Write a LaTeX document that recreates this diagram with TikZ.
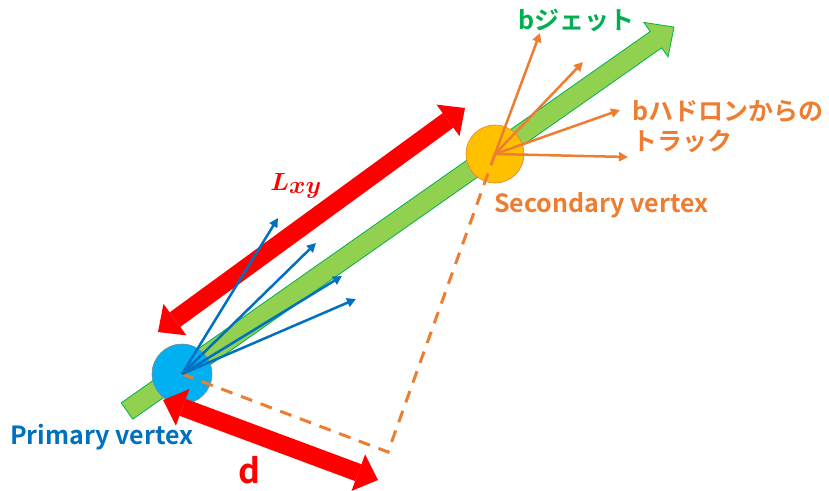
\documentclass[tikz,border=0pt]{standalone}
\usepackage{fontspec}
\newfontfamily\jpfont{Noto Sans CJK JP}[BoldFont={Noto Sans CJK JP Bold}]
\usetikzlibrary{arrows.meta,calc}

\definecolor{jetgreen}{HTML}{00B050}
\definecolor{jetfill}{HTML}{92D050}
\definecolor{pvblue}{HTML}{0070C0}
\definecolor{pvfill}{HTML}{00B0F0}
\definecolor{svfill}{HTML}{FFC000}
\definecolor{trkorange}{HTML}{ED7D31}

\begin{document}
\begin{tikzpicture}[
  x=1pt,
  y=-1pt,
  vtx/.style={circle, draw, line width=0.6pt, inner sep=0pt},
  btrk/.style={pvblue, line width=2.5pt, -{Triangle[width=9pt,length=9pt]}},
  otrk/.style={trkorange, line width=2.5pt, -{Triangle[width=9pt,length=9pt]}},
  fat/.style={red, line width=18pt, {Triangle[width=39pt,length=21pt,line width=0pt]}-{Triangle[width=39pt,length=21pt,line width=0pt]}},
  dline/.style={trkorange, line width=3pt, dash pattern=on 12pt off 9pt},
  lbl/.style={font=\jpfont\bfseries\fontsize{25}{30}\selectfont, inner sep=0pt, align=left}
]
  \useasboundingbox (0,0) rectangle (829,490);

  % jet axis
  \coordinate (jt) at (127,411);
  \coordinate (jh) at (674,27);
  \coordinate (jb) at ($(jh)!22pt!(jt)$);
  \filldraw[fill=jetfill, draw=jetgreen, line width=0.8pt]
    ($(jt)!10pt!90:(jh)$) -- ($(jb)!10pt!90:(jh)$) -- ($(jb)!21pt!90:(jh)$) -- (jh)
    -- ($(jb)!21pt!-90:(jh)$) -- ($(jb)!10pt!-90:(jh)$) -- ($(jt)!10pt!-90:(jh)$) -- cycle;

  % vertices
  \node[vtx, fill=pvfill, draw=black!45, minimum size=60pt] (pv) at (182,374) {};
  \node[vtx, fill=svfill, draw=trkorange, minimum size=58pt] (sv) at (495,154) {};

  % L_xy and d
  \coordinate (l1) at (158,332);
  \coordinate (l2) at (465,108);
  \draw[fat] (l1) -- (l2);
  \coordinate (d1) at (163,400);
  \coordinate (d2) at (378,480);
  \draw[fat] (d1) -- (d2);

  \coordinate (dc) at (388,452);
  \draw[dline] (pv.center) -- (dc) -- (sv.center);

  % tracks
  \foreach \x/\y [count=\i] in {278/218, 316/243, 342/276, 356/299} {
    \coordinate (b\i) at (\x,\y);
    \draw[btrk] (pv.center) -- (b\i);
  }
  \foreach \x/\y [count=\i] in {540/33, 583/62, 620/110, 628/157} {
    \coordinate (o\i) at (\x,\y);
    \draw[otrk] (sv.center) -- (o\i);
  }

  % labels
  \node[lbl, text=jetgreen, anchor=west] (jetlbl) at (518,20) {bジェット};
  \node[lbl, text=trkorange, anchor=west] (hadlbl) at (632,127) {bハドロンからの\\トラック};
  \node[lbl, text=trkorange, anchor=west] (svlbl) at (494,205) {Secondary vertex};
  \node[lbl, text=pvblue, anchor=west] (pvlbl) at (10,437) {Primary vertex};
  \node[text=red, font=\jpfont\bfseries\fontsize{34}{40}\selectfont, inner sep=0pt] (dlbl) at (249,470) {d};
  \node[text=red, font=\fontsize{36}{40}\selectfont\boldmath, inner sep=0pt] (lxylbl) at (296,186) {$L_{xy}$};
\end{tikzpicture}
\end{document}
